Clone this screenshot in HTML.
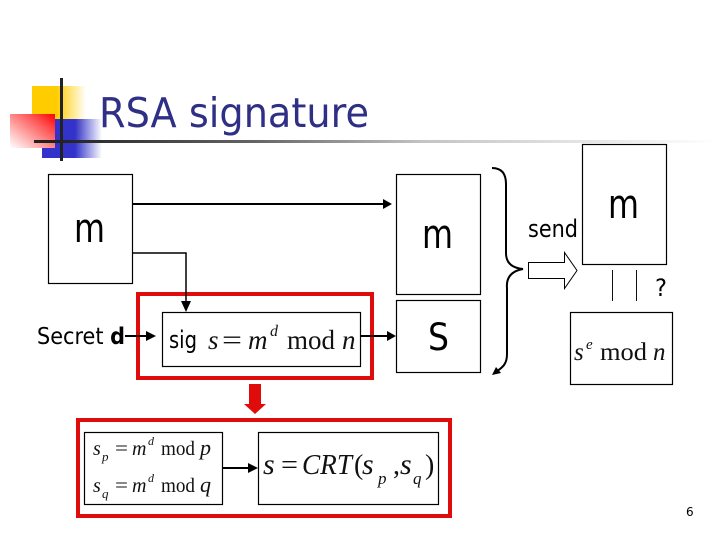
<!DOCTYPE html>
<html><head><meta charset="utf-8">
<style>
html,body{margin:0;padding:0;background:#fff;width:720px;height:540px;overflow:hidden}
svg{display:block}
.s{font-family:"DejaVu Sans","Liberation Sans",sans-serif;fill:#000}
.t{font-family:"Liberation Serif",serif;fill:#111}
.i{font-style:italic}
</style></head><body>
<svg width="720" height="540" viewBox="0 0 720 540" xmlns="http://www.w3.org/2000/svg">
<defs>
<linearGradient id="y" x1="0" x2="1" y1="0" y2="0"><stop offset="0" stop-color="#ffcc00"/><stop offset=".45" stop-color="#ffcc00"/><stop offset="1" stop-color="#ffcc00" stop-opacity="0"/></linearGradient>
<linearGradient id="b" x1="0" x2="1" y1="0" y2="0"><stop offset="0" stop-color="#3333cc"/><stop offset=".55" stop-color="#3333cc"/><stop offset="1" stop-color="#3333cc" stop-opacity="0"/></linearGradient>
<linearGradient id="r" x1="1" x2="0" y1="0" y2="1"><stop offset="0" stop-color="#ff0000"/><stop offset=".3" stop-color="#ff5555"/><stop offset=".75" stop-color="#ffc4c4"/><stop offset="1" stop-color="#ffffff"/></linearGradient>
<linearGradient id="l" x1="0" x2="1" y1="0" y2="0"><stop offset="0" stop-color="#222"/><stop offset=".3" stop-color="#666"/><stop offset=".55" stop-color="#c4c4c4"/><stop offset="1" stop-color="#fff"/></linearGradient>
</defs>

<rect x="32" y="86" width="54" height="50" fill="url(#y)"/>
<rect x="42" y="119" width="60" height="39" fill="url(#b)"/>
<rect x="10" y="114" width="45" height="34" fill="url(#r)"/>
<rect x="60" y="78" width="3" height="83" fill="#222"/>
<rect x="34" y="140" width="30" height="3" fill="#222"/>
<rect x="60" y="140" width="660" height="3" fill="url(#l)"/>

<text x="99" y="127" class="s" font-size="41" style="fill:#2f2f86" textLength="270" lengthAdjust="spacingAndGlyphs">RSA signature</text>

<g fill="#fff" stroke="#000" stroke-width="1.2">
<rect x="48.500" y="174.500" width="84" height="109"/>
<rect x="396.500" y="174.500" width="84" height="120"/>
<rect x="396.500" y="300.500" width="84" height="72"/>
<rect x="582.500" y="144.500" width="84" height="120"/>
<rect x="570.500" y="312.500" width="102" height="72"/>
<rect x="162.500" y="312.500" width="198" height="54"/>
<rect x="84.500" y="432.500" width="138" height="72"/>
<rect x="258.500" y="432.500" width="180" height="72"/>
</g>

<g fill="none" stroke="#e00b0b" stroke-width="4">
<rect x="138" y="294" width="234" height="84"/>
<rect x="78" y="420" width="372" height="96"/>
</g>
<path d="M249 384h12v20h5l-11 10-11-10h5z" fill="#e00b0b"/>

<g fill="none" stroke="#000" stroke-width="2">
<path d="M133 204H384"/>
<path d="M133 253H186V302" stroke-width="1.500"/>
<path d="M125 336H148"/>
<path d="M361 336H390"/>
<path d="M223 468H252"/>
</g>
<g fill="#000">
<path d="M392 204l-9-5v10z"/>
<path d="M186 312l-5-11h10z"/>
<path d="M156 336l-10-5v10z"/>
<path d="M396 336l-9-5v10z"/>
<path d="M258 468l-10-5v10z"/>
</g>

<path d="M492 168c9 0 14 5 14 16v69c0 10 6 15 17 16-11 2-17 8-16 19v66c0 10-4 13-11 18" fill="none" stroke="#000" stroke-width="2"/>
<path d="M492 375l4-8 5 6z" fill="#000"/>

<path d="M528.500 262.500h36v-10l12.500 18-12.500 18v-10h-36z" fill="#fff" stroke="#000" stroke-width="1"/>

<path d="M612.500 270v31M636.500 270v31" stroke="#111" stroke-width="1" fill="none"/>

<g class="s">
<text x="74" y="242" font-size="40" textLength="31" lengthAdjust="spacingAndGlyphs">m</text>
<text x="422" y="248" font-size="40" textLength="31" lengthAdjust="spacingAndGlyphs">m</text>
<text x="608" y="218" font-size="40" textLength="31" lengthAdjust="spacingAndGlyphs">m</text>
<text x="428" y="350" font-size="37" textLength="21" lengthAdjust="spacingAndGlyphs">S</text>
<text x="655" y="296" font-size="24" textLength="12" lengthAdjust="spacingAndGlyphs">?</text>
<text x="528" y="237" font-size="24" textLength="50" lengthAdjust="spacingAndGlyphs">send</text>
<text x="37" y="344" font-size="23" textLength="88" lengthAdjust="spacingAndGlyphs">Secret <tspan font-weight="bold">d</tspan></text>
<text x="169" y="348" font-size="24" textLength="28" lengthAdjust="spacingAndGlyphs">sig</text>
<text x="686" y="516" font-size="12">6</text>
</g>

<g class="t">
<text x="208" y="349" font-size="27" class="i">s</text>
<text x="222" y="349" font-size="27" textLength="20" lengthAdjust="spacingAndGlyphs">=</text>
<text x="248" y="349" font-size="27" class="i">m</text>
<text x="270" y="336" font-size="16" class="i">d</text>
<text x="287" y="349" font-size="27" textLength="48" lengthAdjust="spacingAndGlyphs">mod</text>
<text x="342" y="349" font-size="27" class="i">n</text>

<text x="574" y="360" font-size="25" class="i">s</text>
<text x="586" y="349" font-size="15" class="i">e</text>
<text x="600" y="360" font-size="25" textLength="47" lengthAdjust="spacingAndGlyphs">mod</text>
<text x="653" y="360" font-size="25" class="i">n</text>

<text x="93" y="455" font-size="20" class="i">s</text>
<text x="102" y="461" font-size="13" class="i">p</text>
<text x="115" y="455" font-size="20" textLength="13" lengthAdjust="spacingAndGlyphs">=</text>
<text x="132" y="455" font-size="20" class="i">m</text>
<text x="148" y="445" font-size="12" class="i">d</text>
<text x="161" y="455" font-size="20" textLength="34" lengthAdjust="spacingAndGlyphs">mod</text>
<text x="200" y="455" font-size="22" class="i">p</text>

<text x="93" y="492" font-size="20" class="i">s</text>
<text x="102" y="498" font-size="13" class="i">q</text>
<text x="115" y="492" font-size="20" textLength="13" lengthAdjust="spacingAndGlyphs">=</text>
<text x="132" y="492" font-size="20" class="i">m</text>
<text x="148" y="482" font-size="12" class="i">d</text>
<text x="161" y="492" font-size="20" textLength="34" lengthAdjust="spacingAndGlyphs">mod</text>
<text x="200" y="492" font-size="22" class="i">q</text>

<text x="263" y="474" font-size="30" class="i">s</text>
<text x="281" y="474" font-size="28" textLength="17" lengthAdjust="spacingAndGlyphs">=</text>
<text x="302" y="474" font-size="28" class="i" textLength="50" lengthAdjust="spacingAndGlyphs">CRT</text>
<text x="354" y="474" font-size="28">(</text>
<text x="362" y="474" font-size="30" class="i">s</text>
<text x="378" y="484" font-size="17" class="i">p</text>
<text x="393" y="474" font-size="28">,</text>
<text x="400" y="474" font-size="30" class="i">s</text>
<text x="413" y="484" font-size="17" class="i">q</text>
<text x="425" y="474" font-size="28">)</text>
</g>
</svg>
</body></html>
